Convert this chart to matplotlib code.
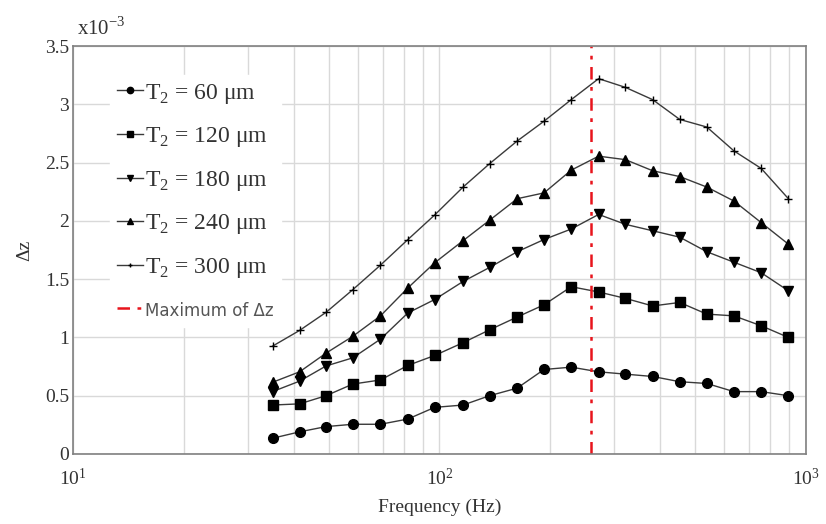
import matplotlib
matplotlib.use("Agg")
import matplotlib.pyplot as plt

plt.rcParams['font.family'] = ['Liberation Serif', 'DejaVu Serif']
plt.rcParams['mathtext.fontset'] = 'custom'
plt.rcParams['mathtext.rm'] = 'Liberation Serif'

# Frequencies (Hz)
freq = [35, 41.5, 49, 58, 69, 82, 97, 116, 137, 163,
        193, 229, 272, 322, 382, 453, 537, 637, 756, 897]

# Delta z values, in units of 1e-3
dz_60 = [0.135, 0.19, 0.235, 0.255, 0.255, 0.30, 0.40, 0.42, 0.50, 0.565,
         0.725, 0.745, 0.705, 0.685, 0.665, 0.62, 0.605, 0.535, 0.535, 0.50]
dz_120 = [0.42, 0.43, 0.50, 0.60, 0.635, 0.76, 0.845, 0.955, 1.065, 1.175,
          1.28, 1.435, 1.39, 1.335, 1.27, 1.30, 1.20, 1.185, 1.10, 1.00]
dz_180 = [0.535, 0.625, 0.755, 0.825, 0.985, 1.21, 1.325, 1.48, 1.60, 1.735,
          1.84, 1.93, 2.055, 1.97, 1.915, 1.86, 1.735, 1.645, 1.555, 1.40]
dz_240 = [0.615, 0.705, 0.865, 1.01, 1.185, 1.425, 1.64, 1.83, 2.005, 2.19,
          2.24, 2.435, 2.555, 2.525, 2.43, 2.38, 2.29, 2.17, 1.985, 1.80]
dz_300 = [0.925, 1.06, 1.215, 1.41, 1.62, 1.84, 2.05, 2.29, 2.49, 2.685,
          2.855, 3.04, 3.22, 3.145, 3.04, 2.87, 2.805, 2.60, 2.45, 2.19]

thickness = [60, 120, 180, 240, 300]
series = [dz_60, dz_120, dz_180, dz_240, dz_300]
markers = ['o', 's', 'v', '^', '+']
msizes = [7, 6.5, 7, 7, 5.5]

f_max = 260  # frequency of maximum delta z

fig = plt.figure(figsize=(8.26, 5.24), dpi=100)
ax = fig.add_axes([0.0887, 0.1336, 0.8867, 0.7786])

for t, ys, m, ms in zip(thickness, series, markers, msizes):
    ax.plot(freq, [y * 1e-3 for y in ys], color='#3a3a3a', lw=1.0,
            marker=m, markersize=ms, markerfacecolor='black',
            markeredgecolor='black', mew=1.0,
            label=r'T$_\mathregular{2}$ = %d μm' % t)

ax.axvline(f_max, color='#e8141c', lw=1.8, ls=(0, (5, 3, 1.5, 3)),
           label='Maximum of Δz')

ax.set_xscale('log')
ax.set_xlim(10, 1000)
ax.set_ylim(0, 3.5e-3)
ax.set_yticks([i * 0.5e-3 for i in range(8)])
ax.set_yticklabels(['0', '0.5', '1', '1.5', '2', '2.5', '3', '3.5'])
ax.grid(True, which='both', axis='x', color='#d9d9d9', lw=1.0)
ax.grid(True, which='major', axis='y', color='#d9d9d9', lw=1.0)
ax.set_axisbelow(True)
ax.tick_params(which='both', length=0, labelsize=14, colors='#333333')
ax.tick_params(axis='x', pad=10)
ax.tick_params(axis='y', pad=3)
for s in ax.spines.values():
    s.set_color('#808080')
    s.set_linewidth(1.2)

ax.set_xlabel('Frequency (Hz)', fontsize=14, color='#333333', labelpad=7)
ax.set_ylabel('Δz', fontsize=14, color='#333333', labelpad=8)
ax.text(0.005, 1.015, r'x10$^\mathregular{-3}$', transform=ax.transAxes,
        fontsize=15, color='#333333', ha='left', va='bottom')

leg = ax.legend(loc='upper left', bbox_to_anchor=(0.05, 0.93), fontsize=17,
                frameon=True, framealpha=1.0, edgecolor='white', fancybox=False,
                handlelength=1.1, handletextpad=0.1, labelspacing=0.83,
                borderpad=0.3, borderaxespad=0, markerscale=0.65)
for txt in leg.get_texts():
    txt.set_color('#333333')
mx = leg.get_texts()[-1]
mx.set_fontfamily('DejaVu Sans')
mx.set_fontsize(12)
mx.set_color('#555555')

fig.savefig('out.png', dpi=100)
